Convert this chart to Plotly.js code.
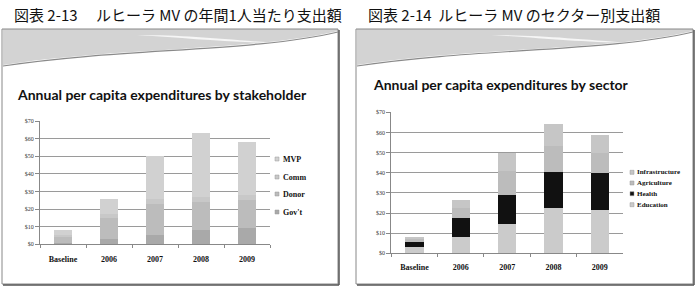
<!DOCTYPE html>
<html><head><meta charset="utf-8">
<script src="https://cdn.plot.ly/plotly-3.0.1.min.js"></script>
<style>html,body{margin:0;padding:0;background:#fff}#chart{width:696px;height:287px}</style>
</head><body><div id="chart"></div>
<script>
const categories = ["Baseline", "2006", "2007", "2008", "2009"];
// Left chart: by stakeholder
const govt  = [1, 3, 5, 8, 9];
const donor = [3, 12, 18, 16, 16];
const comm  = [1, 2, 3, 3, 3];
const mvp   = [3.1, 9, 24, 36.4, 30.3];
// Right chart: by sector
const education      = [3.3, 8, 14.5, 22.3, 21.5];
const health         = [2.5, 9.5, 14.5, 18.2, 18.2];
const agriculture    = [1.4, 5, 12, 13, 10];
const infrastructure = [1, 4, 9, 10.5, 9];
const yTicks = [0, 10, 20, 30, 40, 50, 60, 70];
const leftNames  = ["MVP", "Comm", "Donor", "Gov't"];
const rightNames = ["Infrastructure", "Agriculture", "Health", "Education"];

const W = 696, H = 287;
const px = x => x / W, py = y => 1 - y / H;
const serif = "Liberation Serif";
const colors = {"Gov't": "#a9a9a9", "Donor": "#bcbcbc", "Comm": "#c8c8c8", "MVP": "#d1d1d1",
  "Education": "#cbcbcb", "Health": "#111111", "Agriculture": "#bcbcbc", "Infrastructure": "#c6c6c6"};

function bar(name, y, xa, ya) {
  return {type: "bar", name: name, x: categories, y: y, xaxis: xa, yaxis: ya, showlegend: false,
    marker: {color: colors[name], line: {width: 0}}};
}
const data = [
  bar("Gov't", govt, "x", "y"),
  bar("Donor", donor, "x", "y"),
  bar("Comm", comm, "x", "y"),
  bar("MVP", mvp, "x", "y"),
  bar("Education", education, "x2", "y2"),
  bar("Health", health, "x2", "y2"),
  bar("Agriculture", agriculture, "x2", "y2"),
  bar("Infrastructure", infrastructure, "x2", "y2")
];

function xax(d, anchor, standoff) {
  return {type: "category", domain: d, anchor: anchor, showgrid: false, showline: true, linecolor: "#888", linewidth: 1,
    ticks: "outside", ticklen: 3, tickcolor: "#888", tickson: "boundaries", tickangle: 0, automargin: false,
    ticklabelstandoff: standoff,
    tickfont: {family: serif, size: 8, color: "#111", weight: "bold"}, fixedrange: true};
}
function yax(d, anchor) {
  return {domain: d, anchor: anchor, range: [0, 70], tickvals: yTicks, ticktext: yTicks.map(v => "$" + v),
    showgrid: true, gridcolor: "#9a9a9a", gridwidth: 1, zeroline: false, automargin: false,
    showline: true, linecolor: "#888", ticks: "outside", ticklen: 4, tickcolor: "#888",
    tickfont: {family: serif, size: 6, color: "#333"}, fixedrange: true};
}

const toPaper = s => s.replace(/(-?\d+\.?\d*),(-?\d+\.?\d*)/g, (m, a, b) => px(+a).toFixed(5) + "," + py(+b).toFixed(5));
function header(x0, x1) {
  const y0 = 29, w = x1 - x0;
  const band = `M${x0},${y0} L${x1},${y0} L${x1},${y0+2} C${x0+w*0.75},${y0+22} ${x0+w*0.35},${y0+18} ${x0},${y0+36} Z`;
  const streak = `M${x0+w*0.40},${y0+6} C${x0+w*0.55},${y0+9} ${x0+w*0.65},${y0+13} ${x0+w*0.82},${y0+14} C${x0+w*0.65},${y0+10} ${x0+w*0.55},${y0+6} ${x0+w*0.40},${y0+6} Z`;
  const line = `M${x0},${y0+37} C${x0+w*0.35},${y0+19} ${x0+w*0.75},${y0+23} ${x1},${y0+3}`;
  return [
    {type: "path", xref: "paper", yref: "paper", path: toPaper(band), fillcolor: "#d3d3d3", line: {width: 0}, layer: "below"},
    {type: "path", xref: "paper", yref: "paper", path: toPaper(streak), fillcolor: "#f6f6f6", line: {width: 0}, layer: "below"},
    {type: "path", xref: "paper", yref: "paper", path: toPaper(line), line: {color: "#8a8a8a", width: 1.2}, layer: "below"}
  ];
}
function box(x0, x1) {
  return [
    {type: "rect", xref: "paper", yref: "paper", x0: px(x0), x1: px(x1), y0: py(284), y1: py(29), line: {color: "#888", width: 1}, fillcolor: "rgba(0,0,0,0)", layer: "below"},
    {type: "line", xref: "paper", yref: "paper", x0: px(x0 + 1), x1: px(x1 + 1), y0: py(285), y1: py(285), line: {color: "#555", width: 1.5}},
    {type: "line", xref: "paper", yref: "paper", x0: px(x1 + 1), x1: px(x1 + 1), y0: py(285), y1: py(30), line: {color: "#555", width: 1.5}}
  ];
}

const shapes = [...header(3, 338), ...header(357, 693), ...box(2, 338), ...box(356, 693)];

const annotations = [
  {text: "図表 2-13　 ルヒーラ MV の年間1人当たり支出額", x: px(12), y: py(14), xref: "paper", yref: "paper", xanchor: "left", yanchor: "middle", showarrow: false,
   font: {family: "Noto Sans CJK JP", size: 15, color: "#111"}},
  {text: "図表 2-14  ルヒーラ MV のセクター別支出額", x: px(366), y: py(14), xref: "paper", yref: "paper", xanchor: "left", yanchor: "middle", showarrow: false,
   font: {family: "Noto Sans CJK JP", size: 15, color: "#111"}},
  {text: "Annual per capita expenditures by stakeholder", x: px(15), y: py(95), xref: "paper", yref: "paper", xanchor: "left", yanchor: "middle", showarrow: false,
   font: {family: "Lato", size: 14, color: "#111", weight: "bold"}},
  {text: "Annual per capita expenditures by sector", x: px(371), y: py(84), xref: "paper", yref: "paper", xanchor: "left", yanchor: "middle", showarrow: false,
   font: {family: "Lato", size: 14, color: "#111", weight: "bold"}}
];

// legends as text + squares
const leftLegY = [159, 177, 194, 212];
leftNames.forEach((n, i) => {
  shapes.push({type: "rect", xref: "paper", yref: "paper", x0: px(275), x1: px(279), y0: py(leftLegY[i] + 2), y1: py(leftLegY[i] - 2),
    fillcolor: colors[n], line: {color: "#999", width: 0.5}});
  annotations.push({text: n, x: px(281), y: py(leftLegY[i]), xref: "paper", yref: "paper", xanchor: "left", yanchor: "middle", showarrow: false,
    font: {family: serif, size: 8, color: "#111", weight: "bold"}});
});
const rightLegY = [172.3, 183, 193.7, 204.7];
rightNames.forEach((n, i) => {
  shapes.push({type: "rect", xref: "paper", yref: "paper", x0: px(630), x1: px(634), y0: py(rightLegY[i] + 2), y1: py(rightLegY[i] - 2),
    fillcolor: colors[n], line: {color: "#999", width: 0.5}});
  annotations.push({text: n, x: px(635), y: py(rightLegY[i]), xref: "paper", yref: "paper", xanchor: "left", yanchor: "middle", showarrow: false,
    font: {family: serif, size: 7, color: "#111", weight: "bold"}});
});

const layout = {
  width: W, height: H, margin: {l: 0, r: 0, t: 0, b: 0},
  paper_bgcolor: "#fff", plot_bgcolor: "rgba(0,0,0,0)", showlegend: false,
  barmode: "stack", bargap: 0.6,
  xaxis: xax([px(40), px(270)], "y", 7), yaxis: yax([py(244.3), py(121)], "x"),
  xaxis2: xax([px(391.3), px(623)], "y2", 6), yaxis2: yax([py(253.3), py(112.3)], "x2"),
  shapes: shapes, annotations: annotations
};

Plotly.newPlot("chart", data, layout, {displayModeBar: false, staticPlot: true});
</script></body></html>
